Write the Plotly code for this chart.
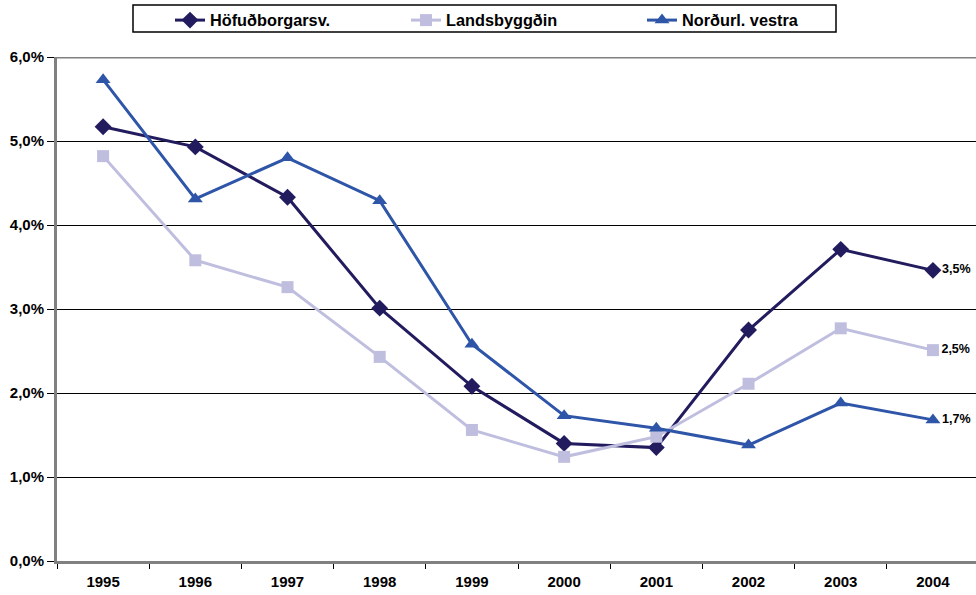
import plotly.graph_objects as go

years = ["1995", "1996", "1997", "1998", "1999", "2000", "2001", "2002", "2003", "2004"]
hofud = [5.17, 4.93, 4.33, 3.01, 2.08, 1.40, 1.35, 2.75, 3.71, 3.46]
lands = [4.82, 3.58, 3.26, 2.43, 1.56, 1.24, 1.48, 2.11, 2.77, 2.51]
nordv = [5.73, 4.31, 4.80, 4.29, 2.58, 1.73, 1.58, 1.38, 1.88, 1.68]
end_labels = ["3,5%", "2,5%", "1,7%"]
ytick_vals = [0, 1, 2, 3, 4, 5, 6]
ytick_text = ["0,0%", "1,0%", "2,0%", "3,0%", "4,0%", "5,0%", "6,0%"]

W, H = 976, 595
ml, mr, mt, mb = 57, 0, 57, 34
pw, ph = W - ml - mr, H - mt - mb

def px_x(p):
    return (p - ml) / pw

def px_y(p):
    return (H - mb - p) / ph

font = "Liberation Sans, Arial, sans-serif"

series = [
    ("Höfuðborgarsv.", hofud, "#221C5E", "diamond", 13, end_labels[0]),
    ("Landsbyggðin", lands, "#BFBEDF", "square", 12, end_labels[1]),
    ("Norðurl. vestra", nordv, "#2E55A8", "triangle-up", 13, end_labels[2]),
]

fig = go.Figure()
for name, vals, col, sym, ms, lab in series:
    fig.add_trace(go.Scatter(
        x=years, y=vals, name=name, mode="lines+markers+text",
        line=dict(color=col, width=3),
        marker=dict(symbol=sym, size=ms, color=col),
        text=[""] * (len(vals) - 1) + [lab],
        textposition="middle right",
        textfont=dict(family=font, size=12.5, color="#000000", weight="bold"),
        cliponaxis=False,
    ))

# top border of plot area
fig.add_shape(type="line", xref="paper", yref="y", x0=0, x1=1, y0=6, y1=6,
              line=dict(color="#808080", width=3))
# legend box
fig.add_shape(type="rect", xref="paper", yref="paper",
              x0=px_x(133), x1=px_x(836), y0=px_y(32), y1=px_y(5),
              line=dict(color="#000000", width=1.5), fillcolor="white", layer="below")

fig.update_layout(
    width=W, height=H,
    margin=dict(l=ml, r=mr, t=mt, b=mb, autoexpand=False),
    paper_bgcolor="white", plot_bgcolor="white",
    font=dict(family=font, size=15, color="#000000"),
    showlegend=True,
    legend=dict(orientation="h", xref="container", yref="container",
                x=170 / W, y=1 - 3 / H, xanchor="left", yanchor="top",
                bgcolor="rgba(0,0,0,0)", borderwidth=0,
                font=dict(family=font, size=16.3, color="#000000", weight="bold"),
                entrywidth=191, entrywidthmode="pixels", traceorder="normal"),
    xaxis=dict(type="category", range=[-0.5, 9.467], showgrid=False, automargin=False,
               showline=True, linecolor="#808080", linewidth=3,
               ticks="outside", tickson="boundaries", ticklen=5, tickcolor="#000000", tickwidth=1,
               ticklabelstandoff=5,
               tickfont=dict(family=font, size=15, color="#000000", weight="bold"),
               fixedrange=True),
    yaxis=dict(range=[0, 6], tickvals=ytick_vals, ticktext=ytick_text, automargin=False,
               showgrid=True, gridcolor="#000000", gridwidth=1,
               showline=True, linecolor="#808080", linewidth=3,
               ticks="outside", ticklen=7, tickcolor="#000000", tickwidth=1,
               tickfont=dict(family=font, size=15, color="#000000", weight="bold"),
               zeroline=False, fixedrange=True),
)

fig.write_html("out.html", config={"displayModeBar": False},
               post_script="document.body.style.margin='0';document.body.style.overflow='hidden';")
